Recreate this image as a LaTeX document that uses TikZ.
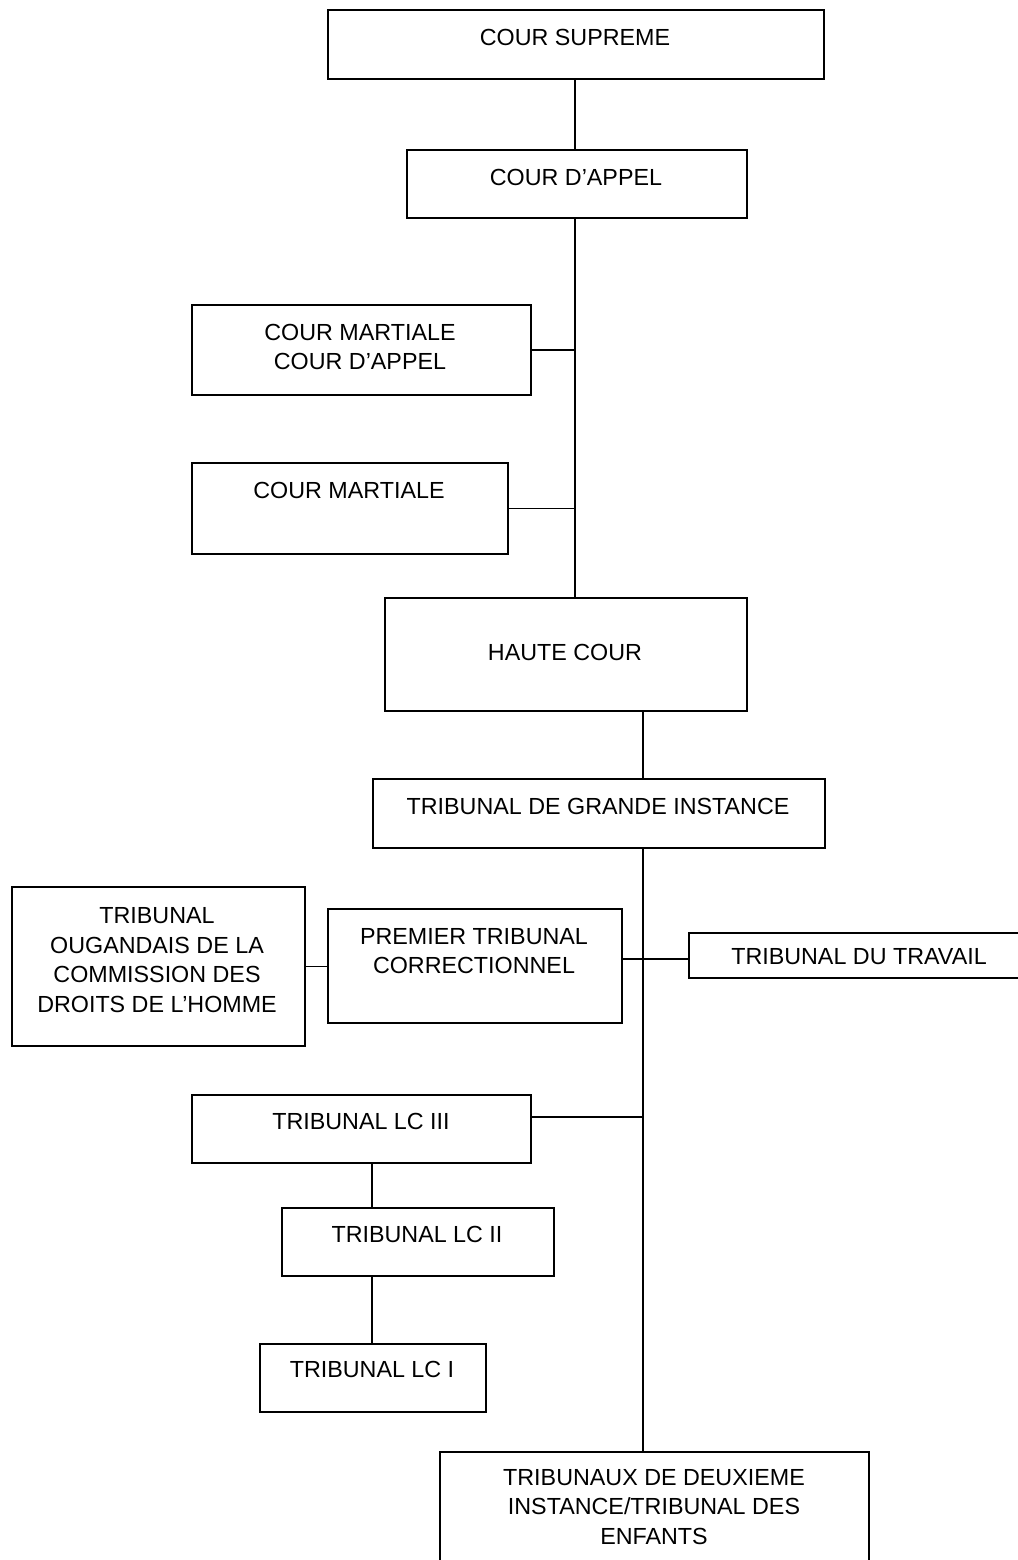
\documentclass[tikz,border=0pt]{standalone}
\usepackage{fontspec}
\setmainfont{Liberation Sans}
\begin{document}
\begin{tikzpicture}[x=1pt,y=-1pt,
  box/.style={draw, line width=1.8pt, rectangle, inner sep=0pt, anchor=north west},
  txt/.style={font=\fontsize{23.3}{29.5}\selectfont, align=center, inner sep=0pt, anchor=center},
  conn/.style={line width=1.8pt}]
\useasboundingbox[fill=white] (0,0) rectangle (1017,1560);

% boxes
\node[box, minimum width=496pt, minimum height=69pt]  (cs)   at (327,9) {};
\node[box, minimum width=340pt, minimum height=68pt]  (ca)   at (406,149) {};
\node[box, minimum width=339pt, minimum height=90pt]  (cmca) at (191,304) {};
\node[box, minimum width=316pt, minimum height=91pt]  (cm)   at (191,462) {};
\node[box, minimum width=362pt, minimum height=113pt] (hc)   at (384,597) {};
\node[box, minimum width=452pt, minimum height=69pt]  (tgi)  at (372,778) {};
\node[box, minimum width=293pt, minimum height=159pt] (oug)  at (11,886) {};
\node[box, minimum width=294pt, minimum height=114pt] (ptc)  at (327,908) {};
\node[box, minimum width=342pt, minimum height=45pt]  (tdt)  at (688,932) {};
\node[box, minimum width=339pt, minimum height=68pt]  (lc3)  at (191,1094) {};
\node[box, minimum width=272pt, minimum height=68pt]  (lc2)  at (281,1207) {};
\node[box, minimum width=226pt, minimum height=68pt]  (lc1)  at (259,1343) {};
\node[box, minimum width=429pt, minimum height=140pt] (tdi)  at (439,1451) {};

% texts
\node[txt] (cs-t)   at (575,37)   {COUR SUPREME};
\node[txt] (ca-t)   at (576,177)  {COUR D’APPEL};
\node[txt] (cmca-t) at (360,347)  {COUR MARTIALE\\COUR D’APPEL};
\node[txt] (cm-t)   at (349,490)  {COUR MARTIALE};
\node[txt] (hc-t)   at (565,652)  {HAUTE COUR};
\node[txt] (tgi-t)  at (598,806)  {TRIBUNAL DE GRANDE INSTANCE};
\node[txt] (oug-t)  at (157,960)  {TRIBUNAL\\OUGANDAIS DE LA\\COMMISSION DES\\DROITS DE L’HOMME};
\node[txt] (ptc-t)  at (474,951)  {PREMIER TRIBUNAL\\CORRECTIONNEL};
\node[txt] (tdt-t)  at (859,957)  {TRIBUNAL DU TRAVAIL};
\node[txt] (lc3-t)  at (361,1121) {TRIBUNAL LC III};
\node[txt] (lc2-t)  at (417,1234) {TRIBUNAL LC II};
\node[txt] (lc1-t)  at (372,1369) {TRIBUNAL LC I};
\node[txt] (tdi-t)  at (654,1507) {TRIBUNAUX DE DEUXIEME\\INSTANCE/TRIBUNAL DES\\ENFANTS};

% spine coordinates
\coordinate (sp1) at (575,0);
\coordinate (sp2) at (643,0);
\coordinate (sp3) at (372,0);
\coordinate (j1) at (643,959);
\coordinate (j2) at (643,1117);

% connectors
\draw[conn] (cs.south -| sp1) -- (ca.north -| sp1);
\draw[conn] (ca.south -| sp1) -- (hc.north -| sp1);
\draw[conn] (cmca.east) -- (cmca.east -| sp1);
\draw[conn] (cm.east) -- (cm.east -| sp1);
\draw[conn] (hc.south -| sp2) -- (tgi.north -| sp2);
\draw[conn] (tgi.south -| sp2) -- (tdi.north -| sp2);
\draw[conn] (ptc.east |- j1) -- (tdt.west |- j1);
\draw[conn] (oug.east) -- (oug.east -| ptc.west);
\draw[conn] (lc3.east |- j2) -- (j2);
\draw[conn] (lc3.south -| sp3) -- (lc2.north -| sp3);
\draw[conn] (lc2.south -| sp3) -- (lc1.north -| sp3);
\end{tikzpicture}
\end{document}
